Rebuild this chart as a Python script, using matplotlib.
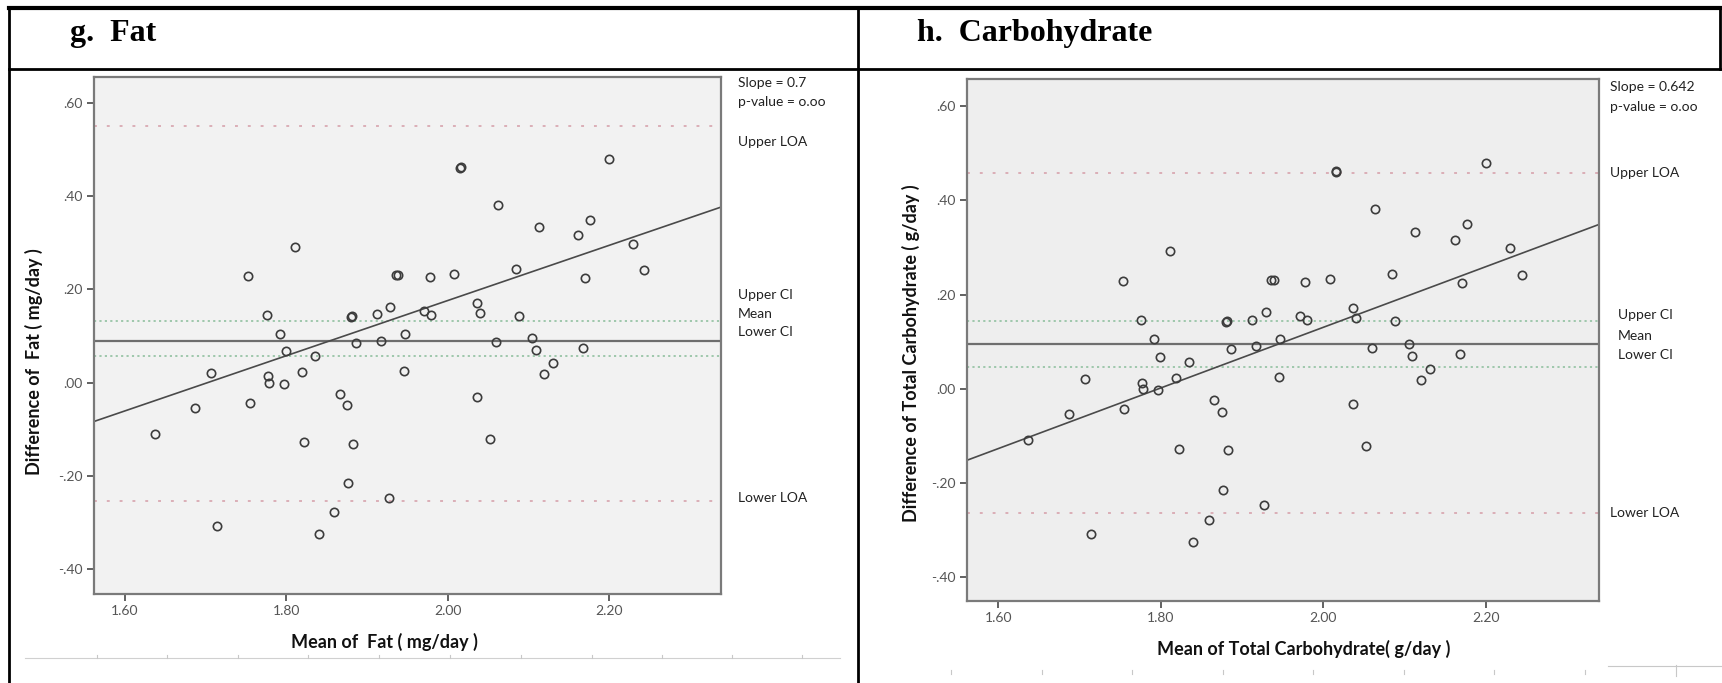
import numpy as np
import matplotlib
matplotlib.use("Agg")
import matplotlib.pyplot as plt
from matplotlib.lines import Line2D
from matplotlib.ticker import FixedLocator

# mean of the two methods (x) and their difference (y); same subjects in both panels
mean_vals = [2.200, 2.015, 2.016, 2.063, 2.113, 2.177, 2.162, 1.811, 2.230, 2.244,
             2.085, 2.170, 1.753, 1.936, 1.939, 1.978, 2.008, 2.037, 2.040, 1.929,
             1.971, 1.980, 1.912, 1.880, 1.881, 1.776, 2.088, 1.792, 1.947, 2.060,
             2.105, 1.917, 1.887, 2.109, 2.168, 1.799, 1.835, 2.131, 2.120, 1.707,
             1.777, 1.778, 1.797, 1.819, 1.946, 1.687, 1.755, 1.866, 1.875, 2.036,
             1.637, 1.822, 1.883, 2.052, 1.876, 1.927, 1.859, 1.714, 1.840]
diff_vals = [0.479, 0.460, 0.462, 0.382, 0.334, 0.350, 0.316, 0.292, 0.298, 0.241,
             0.243, 0.225, 0.229, 0.231, 0.231, 0.226, 0.234, 0.171, 0.150, 0.163,
             0.154, 0.145, 0.147, 0.141, 0.143, 0.146, 0.143, 0.105, 0.105, 0.086,
             0.095, 0.090, 0.085, 0.069, 0.074, 0.067, 0.057, 0.042, 0.019, 0.020,
             0.013, -0.001, -0.003, 0.022, 0.025, -0.054, -0.044, -0.024, -0.049, -0.032,
             -0.110, -0.128, -0.131, -0.121, -0.215, -0.248, -0.279, -0.308, -0.325]

# limits of agreement, confidence interval, mean bias
fat_lines = [0.551, 0.133, 0.090, 0.056, -0.254]
carb_lines = [0.458, 0.143, 0.096, 0.047, -0.265]

# regression of difference on mean (intercept, slope as drawn)
fat_fit = [-1.008, 0.592]
carb_fit = [-1.1585, 0.6445]

x_ticks = [1.60, 1.80, 2.00, 2.20]
x_ticklabels = ['1.60', '1.80', '2.00', '2.20']
y_ticks = [0.60, 0.40, 0.20, 0.00, -0.20, -0.40]
y_ticklabels = ['.60', '.40', '.20', '.00', '-.20', '-.40']

W, H = 1722, 683
fig = plt.figure(figsize=(W / 100, H / 100), dpi=100)
fig.patch.set_facecolor('white')


def px(x, y):
	return x / W, 1 - y / H


def draw_panel(box, xlim, ylim, lines, fit, bg, xlabel, ylabel, xlab_pos, ylab_pos,
               slope_txt, txt_x, txt_x2, txt_y):
	x0, y0, x1, y1 = box
	ax = fig.add_axes([x0 / W, 1 - y1 / H, (x1 - x0) / W, (y1 - y0) / H])
	ax.set_facecolor(bg)
	ax.set_xlim(*xlim)
	ax.set_ylim(*ylim)

	upper_loa, upper_ci, mean_d, lower_ci, lower_loa = lines
	ax.axhline(upper_loa, color='#d9a9b2', lw=1.3, linestyle=(0, (1.6, 5.5)))
	ax.axhline(lower_loa, color='#d9a9b2', lw=1.3, linestyle=(0, (1.6, 5.5)))
	ax.axhline(upper_ci, color='#98c4a6', lw=1.3, linestyle=(0, (1.2, 1.8)))
	ax.axhline(lower_ci, color='#98c4a6', lw=1.3, linestyle=(0, (1.2, 1.8)))
	ax.axhline(mean_d, color='#6e6e6e', lw=1.6)

	xs = np.array(xlim)
	ax.plot(xs, fit[0] + fit[1] * xs, color='#4a4a4a', lw=1.2)

	ax.plot(mean_vals, diff_vals, linestyle='none', marker='o', markersize=6,
	        markerfacecolor='none', markeredgecolor='#3c3c3c', markeredgewidth=1.2)

	for s in ax.spines.values():
		s.set_color('#7a7a7a')
		s.set_linewidth(1.6)
	ax.xaxis.set_major_locator(FixedLocator(x_ticks))
	ax.set_xticklabels(x_ticklabels)
	ax.yaxis.set_major_locator(FixedLocator(y_ticks))
	ax.set_yticklabels(y_ticklabels)
	ax.tick_params(direction='out', length=5, width=1.3, color='#555555',
	               labelsize=10, labelcolor='#555555', pad=3)
	for lab in ax.get_xticklabels() + ax.get_yticklabels():
		lab.set_family('Lato')

	ax.set_xlabel(xlabel, fontsize=13, fontweight='bold', family='Lato', color='#111111')
	ax.set_ylabel(ylabel, fontsize=13, fontweight='bold', family='Lato', color='#111111')
	ax.xaxis.set_label_coords(*xlab_pos)
	ax.yaxis.set_label_coords(*ylab_pos)

	tr = ax.get_yaxis_transform()
	names = ['Slope = ' + slope_txt, 'p-value = o.oo', 'Upper LOA', 'Upper CI', 'Mean',
	         'Lower CI', 'Lower LOA']
	for i in range(len(names)):
		xx = txt_x if i < 3 or i == 6 else txt_x2
		ax.text(xx, txt_y[i], names[i], transform=tr, fontsize=10, family='Lato',
		        color='#222222', va='center', ha='left', clip_on=False)
	return ax


draw_panel((94, 77, 721, 594), (1.5615, 2.339), (-0.454, 0.656), fat_lines, fat_fit, '#f2f2f2',
           'Mean of  Fat ( mg/day )', 'Difference of  Fat ( mg/day )',
           (0.464, -0.075), (-0.081, 0.449), '0.7', 1.027, 1.027,
           [0.643, 0.602, 0.516, 0.189, 0.148, 0.108, -0.247])

draw_panel((967, 79, 1599, 601), (1.5617, 2.339), (-0.451, 0.658), carb_lines, carb_fit, '#eeeeee',
           'Mean of Total Carbohydrate( g/day )', 'Difference of Total Carbohydrate ( g/day )',
           (0.532, -0.075), (-0.074, 0.475), '0.642', 1.017, 1.030,
           [0.641, 0.598, 0.458, 0.156, 0.113, 0.071, -0.263])

# table frame around the two panels
frame = [((9, 8), (1720, 8), 3.0), ((9, 69), (1720, 69), 2.0), ((9, 8), (9, 683), 2.0),
         ((858, 8), (858, 683), 2.0), ((1720, 8), (1720, 69), 2.0)]
for a, b, lw in frame:
	fig.add_artist(Line2D([px(*a)[0], px(*b)[0]], [px(*a)[1], px(*b)[1]],
	                      transform=fig.transFigure, color='black', lw=lw))

# faint ruler lines below the panels
fig.add_artist(Line2D([px(25, 0)[0], px(840, 0)[0]], [px(0, 658)[1]] * 2,
                      transform=fig.transFigure, color='#d0d0d0', lw=0.8))
for tx in [97, 167, 238, 308, 379, 450, 521, 592, 662, 732, 802]:
	fig.add_artist(Line2D([px(tx, 0)[0]] * 2, [px(0, 655)[1], px(0, 658)[1]],
	                      transform=fig.transFigure, color='#c8c8c8', lw=0.8))
for tx in [951, 1042, 1132, 1223, 1313, 1404, 1494, 1585]:
	fig.add_artist(Line2D([px(tx, 0)[0]] * 2, [px(0, 670)[1], px(0, 674)[1]],
	                      transform=fig.transFigure, color='#c8c8c8', lw=0.8))
fig.add_artist(Line2D([px(1608, 0)[0], px(1722, 0)[0]], [px(0, 666)[1]] * 2,
                      transform=fig.transFigure, color='#c8c8c8', lw=0.8))
fig.add_artist(Line2D([px(1676, 0)[0]] * 2, [px(0, 665)[1], px(0, 676)[1]],
                      transform=fig.transFigure, color='#c8c8c8', lw=0.8))

# panel headings
fig.text(*px(70, 41), 'g.  Fat', fontsize=23, fontweight='bold', family='Liberation Serif',
         va='baseline', ha='left')
fig.text(*px(917, 41), 'h.  Carbohydrate', fontsize=23, fontweight='bold',
         family='Liberation Serif', va='baseline', ha='left')

fig.savefig('out.png', dpi=100)
